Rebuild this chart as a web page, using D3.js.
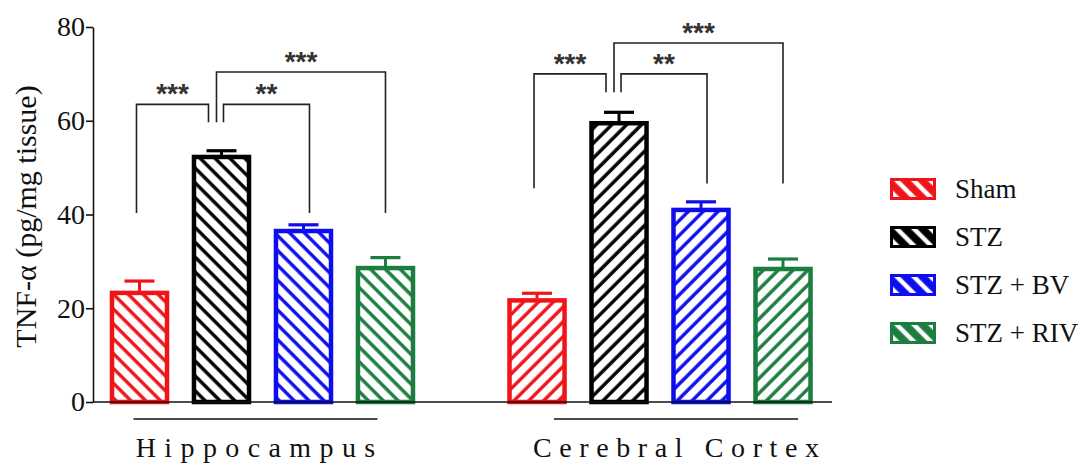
<!DOCTYPE html>
<head>
    <meta charset="utf-8">
    <script src="https://cdn.jsdelivr.net/npm/d3@7"></script>
    <style>
        body { margin: 0; background: #fff; }
    </style>
</head>
<body>
    <div id="chart"></div>

    <script>
        const width = 1080, height = 465;
        const serif = "'Liberation Serif', 'Times New Roman', serif";

        // data
        const groups = ["Hippocampus", "Cerebral Cortex"];
        const series = ["Sham", "STZ", "STZ + BV", "STZ + RIV"];
        const colors = ["#f01418", "#000000", "#0d0df0", "#1b7d3e"];
        const means = [
            [23.7, 52.7, 36.9, 29.0],
            [22.1, 59.9, 41.4, 28.8]
        ];
        const errors = [
            [2.1, 0.9, 0.9, 1.8],
            [1.1, 1.9, 1.3, 1.7]
        ];
        const yTicks = [0, 20, 40, 60, 80];
        // significance brackets: group, from, to, leg bottoms (from, to), top, label
        const brackets = [
            { g: 0, a: 0, b: 1, lowA: 40.3, lowB: 59.7, top: 63.5, label: "***" },
            { g: 0, a: 1, b: 2, lowA: 59.7, lowB: 40.3, top: 63.5, label: "**" },
            { g: 0, a: 1, b: 3, lowA: 59.7, lowB: 40.3, top: 70.4, label: "***" },
            { g: 1, a: 0, b: 1, lowA: 45.6, lowB: 66.1, top: 70.0, label: "***" },
            { g: 1, a: 1, b: 2, lowA: 66.1, lowB: 46.6, top: 70.0, label: "**" },
            { g: 1, a: 1, b: 3, lowA: 66.1, lowB: 46.6, top: 76.6, label: "***" }
        ];

        const svg = d3.select("#chart").append("svg")
            .attr("width", width)
            .attr("height", height);

        const axisX = 93;
        const y = d3.scaleLinear().domain([0, 80]).range([402, 27]);
        const x0 = d3.scaleBand().domain(groups).range([98.5, 824]).paddingInner(0.175);
        const x1 = d3.scaleBand().domain(series).range([0, x0.bandwidth()])
            .paddingInner(0.28).paddingOuter(0.14);

        // hatch patterns, one per colour and direction
        const defs = svg.append("defs");
        series.forEach((s, i) => {
            [-45, 45].forEach(rot => {
                const p = defs.append("pattern")
                    .attr("id", `h${i}_${rot < 0 ? "b" : "f"}`)
                    .attr("patternUnits", "userSpaceOnUse")
                    .attr("width", 10.5).attr("height", 10.5)
                    .attr("patternTransform", `rotate(${rot})`);
                p.append("rect").attr("width", 10.5).attr("height", 10.5).attr("fill", "#fff");
                p.append("line").attr("x1", 2).attr("x2", 2).attr("y1", 0).attr("y2", 10.5)
                    .attr("stroke", colors[i]).attr("stroke-width", 3.4);
            });
            // legend swatch: coloured with white stripes
            const q = defs.append("pattern")
                .attr("id", `l${i}`)
                .attr("patternUnits", "userSpaceOnUse")
                .attr("width", 12).attr("height", 12)
                .attr("patternTransform", "rotate(-45)");
            q.append("rect").attr("width", 12).attr("height", 12).attr("fill", colors[i]);
            q.append("line").attr("x1", 3).attr("x2", 3).attr("y1", 0).attr("y2", 12)
                .attr("stroke", "#fff").attr("stroke-width", 4.5);
        });

        const cx = (g, s) => x0(groups[g]) + x1(series[s]) + x1.bandwidth() / 2;

        // bars
        groups.forEach((gName, g) => {
            const gg = svg.append("g").attr("transform", `translate(${x0(gName)},0)`);
            const dir = g === 0 ? "b" : "f";
            const bars = gg.selectAll("g.bar")
                .data(series.map((s, i) => ({ s, i, v: means[g][i], e: errors[g][i] })))
                .enter().append("g").attr("class", "bar");

            bars.append("line")
                .attr("x1", d => x1(d.s) + x1.bandwidth() / 2)
                .attr("x2", d => x1(d.s) + x1.bandwidth() / 2)
                .attr("y1", d => y(d.v))
                .attr("y2", d => y(d.v + d.e))
                .attr("stroke", d => colors[d.i]).attr("stroke-width", 3);
            bars.append("line")
                .attr("x1", d => x1(d.s) + x1.bandwidth() / 2 - 15)
                .attr("x2", d => x1(d.s) + x1.bandwidth() / 2 + 15)
                .attr("y1", d => y(d.v + d.e))
                .attr("y2", d => y(d.v + d.e))
                .attr("stroke", d => colors[d.i]).attr("stroke-width", 3.2);
            bars.append("rect")
                .attr("x", d => x1(d.s) + 2)
                .attr("width", x1.bandwidth() - 4)
                .attr("y", d => y(d.v) + 2)
                .attr("height", d => y(0) - y(d.v) - 2)
                .attr("fill", d => `url(#h${d.i}_${dir})`)
                .attr("stroke", d => colors[d.i])
                .attr("stroke-width", 4.5);
        });

        // y axis
        const yAxis = svg.append("g")
            .attr("transform", `translate(${axisX},0)`)
            .call(d3.axisLeft(y).tickValues(yTicks).tickSize(7).tickSizeOuter(0).tickPadding(1));
        yAxis.select(".domain").attr("stroke", "#111").attr("stroke-width", 1.6);
        yAxis.selectAll(".tick line").attr("stroke", "#111").attr("stroke-width", 1.6);
        yAxis.selectAll(".tick text")
            .style("font-family", serif)
            .style("font-size", "28px").attr("fill", "#111");

        // x baseline
        svg.append("line")
            .attr("x1", axisX).attr("x2", x0.range()[1] + 8)
            .attr("y1", y(0)).attr("y2", y(0))
            .attr("stroke", "#111").attr("stroke-width", 1.6);

        svg.append("text")
            .attr("transform", `translate(36,${(y(0) + y(80)) / 2 + 2}) rotate(-90)`)
            .attr("text-anchor", "middle")
            .style("font-family", serif)
            .style("font-size", "30px")
            .attr("fill", "#111")
            .text("TNF-α (pg/mg tissue)");

        // group labels with underline
        const labelShift = [-7, 16];
        const spacing = [8.4, 7.6];
        groups.forEach((gName, g) => {
            const c = x0(gName) + x0.bandwidth() / 2 + labelShift[g];
            svg.append("line")
                .attr("x1", c - 122).attr("x2", c + 122)
                .attr("y1", 419).attr("y2", 419)
                .attr("stroke", "#111").attr("stroke-width", 1.4);
            svg.append("text")
                .attr("x", c + spacing[g] / 2).attr("y", 457)
                .attr("text-anchor", "middle")
                .style("font-family", serif)
                .style("font-size", "28px")
                .style("letter-spacing", spacing[g] + "px")
                .attr("fill", "#111")
                .text(gName);
        });

        // significance brackets
        const endShift = (b, s) => {
            if (s !== 1) return 0;
            if (b.a === 0) return -13;
            return b.b === 3 ? -5 : 2;
        };
        brackets.forEach(b => {
            const xa = cx(b.g, b.a) + endShift(b, b.a) - (b.a === 0 ? 3 : 0);
            const xb = cx(b.g, b.b) + endShift(b, b.b) + (b.b === 2 ? 6 : 0);
            svg.append("path")
                .attr("d", `M${xa},${y(b.lowA)}V${y(b.top)}H${xb}V${y(b.lowB)}`)
                .attr("fill", "none").attr("stroke", "#222").attr("stroke-width", 1.6);
            svg.append("text")
                .attr("x", (xa + xb) / 2).attr("y", y(b.top) - 1)
                .attr("text-anchor", "middle")
                .style("font-family", "'Liberation Sans', Arial, sans-serif")
                .style("font-size", "28px")
                .style("font-weight", "bold")
                .attr("fill", "#333")
                .text(b.label);
        });

        // legend
        const legend = svg.append("g").attr("transform", "translate(890,178)");
        const item = legend.selectAll("g").data(series).enter().append("g")
            .attr("transform", (d, i) => `translate(0,${i * 48})`);
        item.append("rect")
            .attr("x", 1.5).attr("y", 1.5).attr("width", 43).attr("height", 19)
            .attr("fill", (d, i) => `url(#l${i})`)
            .attr("stroke", (d, i) => colors[i]).attr("stroke-width", 3);
        item.append("text")
            .attr("x", 65).attr("y", 20)
            .style("font-family", serif)
            .style("font-size", "27px")
            .attr("fill", "#111")
            .text(d => d);
    </script>
</body>
